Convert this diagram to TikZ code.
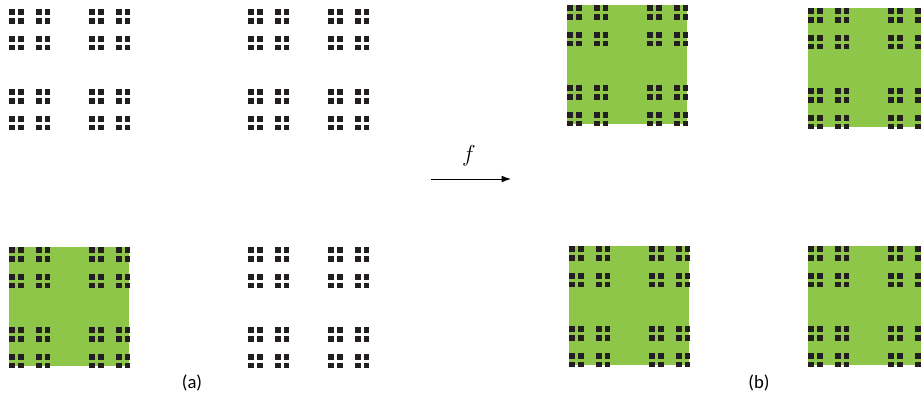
\documentclass[tikz,border=0pt]{standalone}
\usepackage{fontspec}
\setmainfont{Carlito}
\usepackage{tikz}
\usetikzlibrary{arrows.meta}

\definecolor{dustgreen}{RGB}{141,198,73}
\definecolor{dustblack}{RGB}{35,31,32}

% one square of the dust: 8 x 8 specks, top left corner at (#1,#2)
\newcommand{\dustsquare}[2]{%
  \foreach \u in {0,8.9,26.7,35.6,80,88.9,106.7,115.6}
    \foreach \v in {0,8.9,26.7,35.6,80,88.9,106.7,115.6}
      \fill [speck] ({#1+\u},{#2+\v}) rectangle ++(5.8,5.8);
}

\begin{document}
\begin{tikzpicture}[x=0.75pt,y=0.75pt,yscale=-1,xscale=1,
  speck/.style={fill=dustblack},
  greenbox/.style={fill=dustgreen},
  caption/.style={font=\fontsize{14}{16}\selectfont}]
\useasboundingbox (0,0) rectangle (921,397);
\clip (0,0) rectangle (921,397);

%Green squares
\fill [greenbox] (9,247) rectangle ++(120,119);
\fill [greenbox] (567,5) rectangle ++(120,119);
\fill [greenbox] (808,8) rectangle ++(120,119);
\fill [greenbox] (569,246) rectangle ++(120,119);
\fill [greenbox] (808,246) rectangle ++(120,119);

%Dust (a)
\dustsquare{9}{9}
\dustsquare{248}{9}
\dustsquare{9}{247}
\dustsquare{248}{247}

%Dust (b)
\dustsquare{567}{5}
\dustsquare{808}{8}
\dustsquare{569}{246}
\dustsquare{808}{246}

%Map arrow
\coordinate (fstart) at (431,179);
\coordinate (fend) at (511,179);
\draw [line width=0.7pt,-{Latex[length=7pt,width=5pt]}] (fstart) -- (fend);
\node (flabel) at (469,156) [font=\fontsize{18}{20}\selectfont] {$f$};

% Text Node
\node (capa) at (192,383) [caption] {(a)};
% Text Node
\node (capb) at (759,383) [caption] {(b)};

\end{tikzpicture}
\end{document}
